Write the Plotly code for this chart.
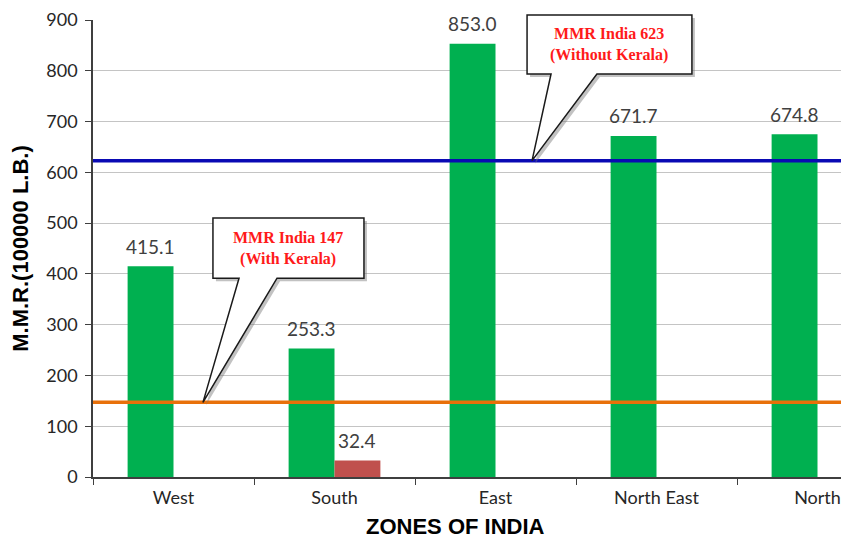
import plotly.graph_objects as go

# Maternal mortality ratio by zone of India
zones = ["West", "South", "East", "North East", "North"]
mmr_zone = [415.1, 253.3, 853.0, 671.7, 674.8]
mmr_kerala = [None, 32.4, None, None, None]

mmr_india_with_kerala = 147
mmr_india_without_kerala = 623

y_max = 900
y_ticks = [0, 100, 200, 300, 400, 500, 600, 700, 800, 900]

GREEN = "#00B050"
RED = "#C0504D"
BLUE = "#0A0AB4"
ORANGE = "#E8700A"
LABEL_GREY = "#404040"

bargap = 0.43
bar_w = (1 - bargap) / 2  # width of one bar in category units

fig = go.Figure()
fig.add_trace(go.Bar(x=zones, y=mmr_zone, marker=dict(color=GREEN, line_width=0),
                     name="Zones", showlegend=False, hoverinfo="x+y"))
fig.add_trace(go.Bar(x=zones, y=mmr_kerala, marker=dict(color=RED, line_width=0),
                     name="Kerala", showlegend=False, hoverinfo="x+y"))

# value labels above each bar
annotations = []
for i, v in enumerate(mmr_zone):
    annotations.append(dict(x=i - bar_w / 2, y=v, xref="x", yref="y", text=f"{v:.1f}",
                            showarrow=False, yanchor="middle", yshift=20,
                            font=dict(family="Lato", size=19, color=LABEL_GREY)))
for i, v in enumerate(mmr_kerala):
    if v is not None:
        annotations.append(dict(x=i + bar_w / 2, y=v, xref="x", yref="y", text=f"{v:.1f}",
                                showarrow=False, yanchor="middle", yshift=20,
                                font=dict(family="Lato", size=19, color=LABEL_GREY)))

shapes = []
# national reference lines
for val, col in [(mmr_india_without_kerala, BLUE), (mmr_india_with_kerala, ORANGE)]:
    shapes.append(dict(type="line", xref="paper", yref="y", x0=0, x1=1, y0=val, y1=val,
                       line=dict(color=col, width=3.5), layer="above"))


def callout(box, base, tip_x, tip_val, dx=0.0, dy=0.0):
    """Rectangle with a wedge pointing to (tip_x, tip_val); x in category units, y in paper."""
    l, r, b, t = box
    bl, br = base
    ty = tip_val / y_max
    pts = [(l, t), (r, t), (r, b), (br, b), (tip_x, ty), (bl, b), (l, b)]
    return "M " + " L ".join(f"{x + dx:.4f},{y + dy:.4f}" for x, y in pts) + " Z"


callouts = [
    # (box l, r, b, t), (wedge base l, r), tip x, line value, text
    ((0.245, 1.183, 0.435, 0.567), (0.407, 0.643), 0.183, mmr_india_with_kerala,
     "MMR India 147<br>(With Kerala)"),
    ((2.196, 3.220, 0.882, 1.011), (2.345, 2.630), 2.227, mmr_india_without_kerala,
     "MMR India 623<br>(Without Kerala)"),
]
px_x = 1 / 161.0
px_y = 1 / 457.0
for box, base, tx, tv, txt in callouts:
    shapes.append(dict(type="path", xref="x", yref="paper", layer="above",
                       path=callout(box, base, tx, tv, dx=3 * px_x, dy=-3 * px_y),
                       fillcolor="rgba(120,120,120,0.45)", line=dict(width=0)))
    shapes.append(dict(type="path", xref="x", yref="paper", layer="above",
                       path=callout(box, base, tx, tv),
                       fillcolor="white", line=dict(color="#1a1a1a", width=1.5)))
    l, r, b, t = box
    annotations.append(dict(x=(l + r) / 2, y=(b + t) / 2, xref="x", yref="paper", text=txt,
                            showarrow=False, align="center", xanchor="center", yanchor="middle",
                            font=dict(family="Liberation Serif", size=16, color="#FF1A1A",
                                      weight="bold")))

# x-axis title
annotations.append(dict(x=0.484, y=-0.109, xref="paper", yref="paper",
                        text="<b>ZONES OF INDIA</b>", showarrow=False,
                        xanchor="center", yanchor="middle",
                        font=dict(family="Liberation Sans", size=22, color="black")))

n = len(zones)
fig.update_layout(
    width=841, height=541,
    margin=dict(l=93, r=0, t=20, b=64),
    paper_bgcolor="white", plot_bgcolor="white",
    barmode="group", bargap=bargap, bargroupgap=0,
    shapes=shapes, annotations=annotations,
    xaxis=dict(
        type="category", range=[-0.5, n - 0.5 - 57 / 161], fixedrange=True,
        showline=True, linecolor="#3f3f3f", linewidth=1.5,
        ticks="outside", tickson="boundaries", ticklen=6, tickcolor="#3f3f3f", tickwidth=1.2,
        tickfont=dict(family="Lato", size=18, color="#262626"), ticklabelstandoff=4,
        showgrid=False,
    ),
    yaxis=dict(
        range=[0, y_max], tickvals=y_ticks, fixedrange=True,
        showline=True, linecolor="#3f3f3f", linewidth=1.5,
        ticks="outside", ticklen=6, tickcolor="#3f3f3f", tickwidth=1.2,
        tickfont=dict(family="Lato", size=18, color="#262626"), ticklabelstandoff=4,
        showgrid=True, gridcolor="#C4C4C4", gridwidth=1, zeroline=False,
        title=dict(text="<b>M.M.R.(100000 L.B.)</b>", standoff=12,
                   font=dict(family="Liberation Sans", size=22, color="black")),
    ),
)

fig.write_html("out.html")
